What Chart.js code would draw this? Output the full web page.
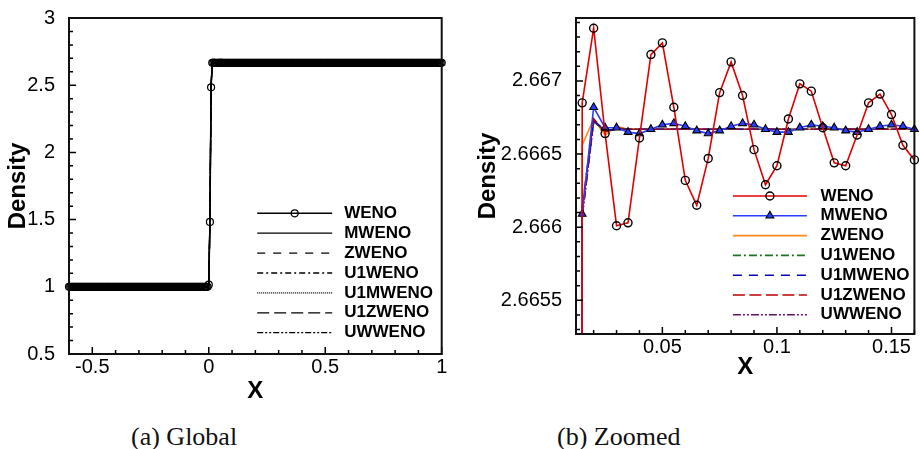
<!DOCTYPE html>
<html>
<head>
<meta charset="utf-8">
<script src="https://cdn.jsdelivr.net/npm/chart.js@4.4.1/dist/chart.umd.min.js"></script>
<style>
  body { margin: 0; background: #fff; width: 920px; height: 449px; position: relative; overflow: hidden; }
  #globalChart { position: absolute; left: 0; top: 0; }
  #zoomChart { position: absolute; left: 460px; top: 0; }
  .caption { position: absolute; top: 422px; font: 26px "Liberation Serif", serif; color: #111; white-space: nowrap; }
</style>
</head>
<body>
<canvas id="globalChart" width="460" height="410"></canvas>
<canvas id="zoomChart" width="460" height="386"></canvas>
<div class="caption" style="left:131px">(a) Global</div>
<div class="caption" style="left:557px">(b) Zoomed</div>
<script>
// scheme names (legend order)
const schemes = ['WENO', 'MWENO', 'ZWENO', 'U1WENO', 'U1MWENO', 'U1ZWENO', 'UWWENO'];

// mesh spacing and plateau levels
const dx = 0.005;
const globalXMin = -0.6;
const globalXMax = 1.0;
const preShockRho = 1.0;
const postShockRho = 2.66667;

// values across the shock, x = -0.005, 0, 0.005
const shockX = [-0.005, 0, 0.005];
const wenoShock = [1.0, 1.016, 1.483];
const otherShock = [1.0, 1.01, 1.5];

// zoomed window, x = 0.01 .. 0.16
const zoomX = [0.01, 0.015, 0.02, 0.025, 0.03, 0.035, 0.04, 0.045, 0.05, 0.055, 0.06,
  0.065, 0.07, 0.075, 0.08, 0.085, 0.09, 0.095, 0.1, 0.105, 0.11,
  0.115, 0.12, 0.125, 0.13, 0.135, 0.14, 0.145, 0.15, 0.155, 0.16];
const wenoZoom = [2.484, 2.66685, 2.66736, 2.66664, 2.66601, 2.66603, 2.66661, 2.66718, 2.66726, 2.66682, 2.66632,
  2.66615, 2.66647, 2.66692, 2.66713, 2.66690, 2.66653, 2.66629, 2.66642, 2.66674, 2.66698,
  2.66693, 2.66668, 2.66644, 2.66642, 2.66663, 2.66685, 2.66691, 2.66677, 2.66656, 2.66646];
const mwenoZoom = [2.50, 2.66609, 2.66682, 2.66668, 2.66668, 2.66665, 2.66664, 2.66667, 2.66670, 2.66671, 2.66669,
  2.66666, 2.66664, 2.66666, 2.66669, 2.66671, 2.66670, 2.66667, 2.66665, 2.66665, 2.66668,
  2.66670, 2.66669, 2.66668, 2.66666, 2.66665, 2.66667, 2.66669, 2.66670, 2.66669, 2.66667];
const zwenoZoom = [2.52, 2.66656, 2.66674, 2.66663, 2.66669, 2.66667, 2.66667, 2.66667, 2.66667, 2.66667, 2.66667,
  2.66667, 2.66667, 2.66667, 2.66667, 2.66667, 2.66667, 2.66667, 2.66667, 2.66667, 2.66667,
  2.66667, 2.66667, 2.66667, 2.66667, 2.66667, 2.66667, 2.66667, 2.66667, 2.66667, 2.66667];
const u1wenoZoom = [2.49, 2.66612, 2.66672, 2.66666, 2.66667, 2.66667, 2.66667, 2.66667, 2.66667, 2.66667, 2.66667,
  2.66667, 2.66667, 2.66667, 2.66667, 2.66667, 2.66667, 2.66667, 2.66667, 2.66667, 2.66667,
  2.66667, 2.66667, 2.66667, 2.66667, 2.66667, 2.66667, 2.66667, 2.66667, 2.66667, 2.66667];
const u1mwenoZoom = [2.49, 2.66608, 2.66673, 2.66666, 2.66667, 2.66667, 2.66667, 2.66667, 2.66667, 2.66667, 2.66667,
  2.66667, 2.66667, 2.66667, 2.66667, 2.66667, 2.66667, 2.66667, 2.66667, 2.66667, 2.66667,
  2.66667, 2.66667, 2.66667, 2.66667, 2.66667, 2.66667, 2.66667, 2.66667, 2.66667, 2.66667];
const u1zwenoZoom = [2.50, 2.66614, 2.66674, 2.66665, 2.66668, 2.66667, 2.66667, 2.66667, 2.66667, 2.66667, 2.66667,
  2.66667, 2.66667, 2.66667, 2.66667, 2.66667, 2.66667, 2.66667, 2.66667, 2.66667, 2.66667,
  2.66667, 2.66667, 2.66667, 2.66667, 2.66667, 2.66667, 2.66667, 2.66667, 2.66667, 2.66667];
const uwwenoZoom = [2.49, 2.66606, 2.66672, 2.66666, 2.66667, 2.66667, 2.66667, 2.66667, 2.66667, 2.66667, 2.66667,
  2.66667, 2.66667, 2.66667, 2.66667, 2.66667, 2.66667, 2.66667, 2.66667, 2.66667, 2.66667,
  2.66667, 2.66667, 2.66667, 2.66667, 2.66667, 2.66667, 2.66667, 2.66667, 2.66667, 2.66667];

// tick labels
const globalXTicks = [-0.5, 0, 0.5, 1];
const globalYTicks = [0.5, 1, 1.5, 2, 2.5, 3];
const zoomXTicks = [0.05, 0.1, 0.15];
const zoomYTicks = [2.6655, 2.666, 2.6665, 2.667];

const zoomSeries = [wenoZoom, mwenoZoom, zwenoZoom, u1wenoZoom, u1mwenoZoom, u1zwenoZoom, uwwenoZoom];

// whole domain: plateau left of shock, shock cells, zoom values, plateau to the right
function globalPoints(shockVals, zoomVals) {
  const pts = [];
  const n = Math.round((globalXMax - globalXMin) / dx);
  for (let i = 0; i <= n; i++) {
    const x = Math.round((globalXMin + i * dx) * 1000) / 1000;
    let y;
    const si = shockX.indexOf(x);
    const zi = zoomX.indexOf(x);
    if (si >= 0) y = shockVals[si];
    else if (zi >= 0) y = zoomVals[zi];
    else if (x < 0) y = preShockRho;
    else y = postShockRho;
    pts.push({ x: x, y: y });
  }
  return pts;
}

Chart.defaults.font.family = '"Liberation Sans", Arial, sans-serif';
Chart.defaults.color = '#000';

function drawMarker(ctx, style, r, x, y) {
  ctx.beginPath();
  if (style === 'triangle') {
    ctx.moveTo(x, y - r);
    ctx.lineTo(x + r * 0.866, y + r * 0.5);
    ctx.lineTo(x - r * 0.866, y + r * 0.5);
    ctx.closePath();
  } else {
    ctx.arc(x, y, r, 0, Math.PI * 2);
  }
  ctx.fill();
  ctx.stroke();
}

// tecplot style frame with inward major/minor ticks
const innerTicks = {
  id: 'innerTicks',
  afterDraw(chart, args, opts) {
    const { ctx, chartArea: a, scales } = chart;
    const sx = scales.x, sy = scales.y;
    const minor = (s, step) => {
      const out = [];
      for (let k = Math.ceil(s.min / step - 1e-6); k * step <= s.max + 1e-9; k++) out.push(k * step);
      return out;
    };
    ctx.save();
    ctx.strokeStyle = '#000';
    ctx.lineWidth = 1.5;
    ctx.beginPath();
    minor(sx, opts.xMinor).forEach(v => {
      const p = sx.getPixelForValue(v);
      ctx.moveTo(p, a.bottom); ctx.lineTo(p, a.bottom - 4);
    });
    sx.ticks.forEach(t => {
      const p = sx.getPixelForValue(t.value);
      ctx.moveTo(p, a.bottom); ctx.lineTo(p, a.bottom - 7);
    });
    minor(sy, opts.yMinor).forEach(v => {
      const p = sy.getPixelForValue(v);
      ctx.moveTo(a.left, p); ctx.lineTo(a.left + 4, p);
    });
    sy.ticks.forEach(t => {
      const p = sy.getPixelForValue(t.value);
      ctx.moveTo(a.left, p); ctx.lineTo(a.left + 7, p);
    });
    ctx.stroke();
    ctx.lineWidth = 2;
    ctx.strokeStyle = '#111';
    ctx.strokeRect(a.left, a.top, a.right - a.left, a.bottom - a.top);
    ctx.restore();
  }
};

// legend drawn inside the plot, lower right
const insideLegend = {
  id: 'insideLegend',
  afterDraw(chart, args, opts) {
    const { ctx, chartArea: a } = chart;
    ctx.save();
    chart.data.datasets.forEach((ds, i) => {
      const y = a.bottom - opts.fromBottom + i * opts.rowGap;
      const x0 = a.right - opts.fromRight;
      const x1 = x0 + opts.lineLength;
      ctx.strokeStyle = ds.borderColor;
      ctx.lineWidth = ds.borderWidth;
      ctx.setLineDash(ds.borderDash || []);
      ctx.beginPath();
      ctx.moveTo(x0, y);
      ctx.lineTo(x1, y);
      ctx.stroke();
      ctx.setLineDash([]);
      if (ds.legendMarker) {
        ctx.fillStyle = ds.pointBackgroundColor;
        ctx.strokeStyle = ds.pointBorderColor;
        ctx.lineWidth = ds.pointBorderWidth;
        drawMarker(ctx, ds.pointStyle, ds.legendMarker, (x0 + x1) / 2, y);
      }
      ctx.fillStyle = '#000';
      ctx.font = 'bold 17px "Liberation Sans", Arial, sans-serif';
      ctx.textBaseline = 'middle';
      ctx.fillText(ds.label, x1 + opts.textGap, y);
    });
    ctx.restore();
  }
};

function axis(min, max, ticks, title, size, pad, isY) {
  return {
    type: 'linear',
    min: min,
    max: max,
    afterBuildTicks: s => { s.ticks = ticks.map(v => ({ value: v })); },
    afterFit: s => { if (isY) s.width = size; else s.height = size; },
    grid: { display: false },
    border: { display: false },
    ticks: { font: { size: 20 }, padding: pad, callback: v => String(v), autoSkip: false, maxRotation: 0 },
    title: { display: true, text: title, font: { size: 24, weight: 'bold' }, padding: 4 }
  };
}

// ---------- (a) Global ----------
const globalStyles = [
  { dash: [], width: 1.5 },
  { dash: [], width: 1.3 },
  { dash: [8, 8], width: 1.3 },
  { dash: [6, 3, 2, 3], width: 1.3 },
  { dash: [1, 1], width: 1.3 },
  { dash: [12, 5], width: 1.3 },
  { dash: [6, 2, 2, 2, 2, 2], width: 1.3 }
];

const globalSets = schemes.map((name, i) => ({
  label: name,
  data: globalPoints(i === 0 ? wenoShock : otherShock, zoomSeries[i]),
  borderColor: '#000',
  borderWidth: globalStyles[i].width,
  borderDash: globalStyles[i].dash,
  pointRadius: i === 0 ? 3.5 : 0,
  pointStyle: 'circle',
  pointBackgroundColor: 'rgba(0,0,0,0)',
  pointBorderColor: '#000',
  pointBorderWidth: 1.2,
  legendMarker: i === 0 ? 3.5 : 0,
  order: i,
  clip: false
}));

new Chart(document.getElementById('globalChart'), {
  type: 'line',
  data: { datasets: globalSets },
  options: {
    responsive: false,
    animation: false,
    layout: { padding: { left: 0, right: 18.3, top: 16, bottom: 0 } },
    plugins: {
      legend: { display: false },
      tooltip: { enabled: false },
      innerTicks: { xMinor: 0.1, yMinor: 0.1 },
      insideLegend: { fromRight: 184.5, fromBottom: 140.7, rowGap: 19.9, lineLength: 75, textGap: 12 }
    },
    scales: {
      x: axis(globalXMin, globalXMax, globalXTicks, 'X', 56, -7, false),
      y: axis(0.5, 3, globalYTicks, 'Density', 69, 6, true)
    }
  },
  plugins: [innerTicks, insideLegend]
});

// ---------- (b) Zoomed ----------
const zoomStyles = [
  { color: 'rgb(225,0,0)', dash: [], width: 1.6 },
  { color: 'rgb(40,60,255)', dash: [], width: 1.6 },
  { color: 'rgb(255,140,25)', dash: [], width: 1.6 },
  { color: 'rgb(30,115,30)', dash: [8, 3, 2, 3], width: 1.6 },
  { color: 'rgb(0,0,190)', dash: [9, 7], width: 1.6 },
  { color: 'rgb(185,0,0)', dash: [12, 4.5], width: 1.6 },
  { color: 'rgb(100,20,100)', dash: [8, 2, 2, 2, 2, 2], width: 1.6 }
];
const zoomOrder = [0, 1, 6, 5, 4, 3, 2];

const zoomSets = schemes.map((name, i) => ({
  label: name,
  data: zoomX.map((x, k) => ({ x: x, y: zoomSeries[i][k] })),
  borderColor: zoomStyles[i].color,
  borderWidth: zoomStyles[i].width,
  borderDash: zoomStyles[i].dash,
  pointRadius: i === 0 ? 4 : (i === 1 ? 4.5 : 0),
  pointStyle: i === 1 ? 'triangle' : 'circle',
  pointBackgroundColor: i === 1 ? 'rgb(40,60,255)' : 'rgba(0,0,0,0)',
  pointBorderColor: '#000',
  pointBorderWidth: i === 1 ? 1.1 : 1.4,
  legendMarker: i === 0 ? 4 : (i === 1 ? 4.5 : 0),
  order: zoomOrder[i],
  clip: { left: 0, top: 0, right: 8, bottom: 0 }
}));

new Chart(document.getElementById('zoomChart'), {
  type: 'line',
  data: { datasets: zoomSets },
  options: {
    responsive: false,
    animation: false,
    layout: { padding: { left: 10, right: 4.5, top: 16, bottom: 0 } },
    plugins: {
      legend: { display: false },
      tooltip: { enabled: false },
      innerTicks: { xMinor: 0.01, yMinor: 0.0001 },
      insideLegend: { fromRight: 181.5, fromBottom: 138, rowGap: 19.8, lineLength: 74, textGap: 13.7 }
    },
    scales: {
      x: axis(0.0123, 0.16, zoomXTicks, 'X', 52, -7, false),
      y: axis(2.66527, 2.66743, zoomYTicks, 'Density', 106, 6, true)
    }
  },
  plugins: [innerTicks, insideLegend]
});
</script>
</body>
</html>
